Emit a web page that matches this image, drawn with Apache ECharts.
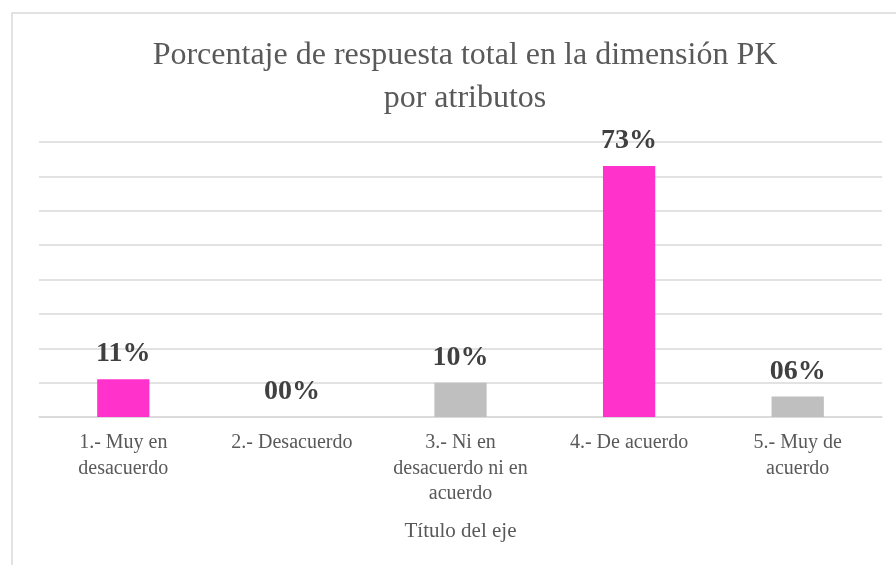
<!DOCTYPE html>
<html>
<head>
<meta charset="utf-8">
<script src="https://cdn.jsdelivr.net/npm/echarts@6/dist/echarts.min.js"></script>
<style>
  html, body { margin: 0; padding: 0; background: #fff; }
  #chart { width: 896px; height: 565px; }
</style>
</head>
<body>
<div id="chart"></div>
<script>
// categorías del eje X
const categorias = [
  '1.- Muy en\ndesacuerdo',
  '2.- Desacuerdo',
  '3.- Ni en\ndesacuerdo ni en\nacuerdo',
  '4.- De acuerdo',
  '5.- Muy de\nacuerdo'
]
// porcentajes
const valores = [11, 0, 10, 73, 6]
// colores de cada barra
const colores = ['#FF33CC', '#BFBFBF', '#BFBFBF', '#FF33CC', '#BFBFBF']

const serif = "'Liberation Serif', 'Times New Roman', serif"

const chart = echarts.init(document.getElementById('chart'))

const option = {
  backgroundColor: '#fff',
  animation: false,
  title: {
    text: 'Porcentaje de respuesta total en la dimensión PK\npor atributos',
    left: 460,
    textAlign: 'center',
    top: 29,
    textStyle: {
      fontFamily: serif,
      fontWeight: 'normal',
      fontSize: 32,
      lineHeight: 43,
      color: '#595959'
    }
  },
  graphic: [
    {
      type: 'rect',
      shape: { x: 12, y: 13, width: 920, height: 600 },
      style: { fill: 'none', stroke: '#D9D9D9', lineWidth: 1.5 },
      silent: true
    }
  ],
  grid: {
    left: 39,
    right: 14,
    top: 142,
    bottom: 148
  },
  xAxis: {
    type: 'category',
    data: categorias,
    name: 'Título del eje',
    nameLocation: 'middle',
    nameGap: 104,
    nameTextStyle: {
      fontFamily: serif,
      fontSize: 21,
      color: '#595959'
    },
    axisLine: { lineStyle: { color: '#D9D9D9', width: 1.5 } },
    axisTick: { show: false },
    axisLabel: {
      interval: 0,
      margin: 13,
      fontFamily: serif,
      fontSize: 20,
      lineHeight: 25.5,
      color: '#595959'
    }
  },
  yAxis: {
    type: 'value',
    min: 0,
    max: 80,
    interval: 10,
    axisLabel: { show: false },
    axisLine: { show: false },
    axisTick: { show: false },
    splitLine: { lineStyle: { color: '#D9D9D9', width: 1.5 } }
  },
  series: [
    {
      type: 'bar',
      barWidth: '31%',
      data: valores.map((v, i) => ({
        value: v,
        itemStyle: { color: colores[i] }
      })),
      label: {
        show: true,
        position: 'top',
        distance: 11,
        fontFamily: serif,
        fontWeight: 'bold',
        fontSize: 28,
        color: '#404040',
        formatter: p => String(Math.round(p.value)).padStart(2, '0') + '%'
      }
    }
  ]
}

chart.setOption(option)
</script>
</body>
</html>
